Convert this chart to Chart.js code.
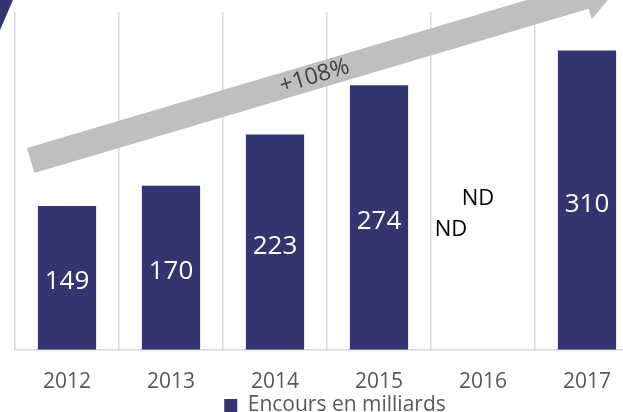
<!DOCTYPE html>
<html lang="fr">
<head>
    <meta charset="UTF-8">
    <title>Encours en milliards</title>
    <script src="https://cdn.jsdelivr.net/npm/chart.js"></script>
    <style>
        * { margin: 0; padding: 0; box-sizing: border-box; }
        html, body { width: 623px; height: 412px; overflow: hidden; background: #fff; }
        .chart-box { width: 686px; height: 426px; position: relative; }
    </style>
</head>
<body>
    <div class="chart-box">
        <canvas id="barChart"></canvas>
    </div>

    <script>
        // Data
        const years = ['2012', '2013', '2014', '2015', '2016', '2017'];
        const encours = [149, 170, 223, 274, null, 310];
        const seriesName = 'Encours en milliards';
        const growthLabel = '+108%';
        const missingLabel = 'ND';

        const barColor = '#333571';
        const textGray = '#595959';

        // white value labels in the middle of each bar + ND for the missing year
        const valueLabels = {
            id: 'valueLabels',
            afterDatasetsDraw(chart) {
                const ctx = chart.ctx;
                const meta = chart.getDatasetMeta(0);
                ctx.save();
                ctx.font = '26px "Open Sans"';
                ctx.fillStyle = '#fff';
                ctx.textAlign = 'center';
                ctx.textBaseline = 'middle';
                meta.data.forEach((bar, i) => {
                    if (encours[i] == null) return;
                    ctx.fillText(encours[i], bar.x, (bar.y + bar.base) / 2 + 4);
                });

                // the two "ND" marks for 2016
                const x = chart.scales.x.getPixelForValue(4);
                const y = chart.scales.y;
                ctx.fillStyle = '#000';
                ctx.font = '22px "Open Sans"';
                ctx.fillText(missingLabel, x - 5, y.getPixelForValue(157));
                ctx.fillText(missingLabel, x - 32, y.getPixelForValue(124));
                ctx.restore();
            }
        };

        // big grey growth arrow behind the bars + the blue corner piece
        const growthArrow = {
            id: 'growthArrow',
            afterLayout(chart) {
                // legend sits a little right of the plot centre in the original
                chart.legend.left += 8;
                chart.legend.right += 8;
            },
            beforeDatasetsDraw(chart) {
                const ctx = chart.ctx;
                const ang = 16.5 * Math.PI / 180;
                const ux = Math.cos(ang), uy = -Math.sin(ang);
                const nx = Math.sin(ang), ny = Math.cos(ang);
                const sx = 30.7, sy = 160.5;   // middle of the tail
                const half = 13, shaft = 578, wing = 11, head = 36;

                const p = (l, o) => [sx + ux * l + nx * o, sy + uy * l + ny * o];
                const pts = [
                    p(0, -half), p(shaft, -half), p(shaft, -half - wing),
                    p(shaft + head, 0),
                    p(shaft, half + wing), p(shaft, half), p(0, half)
                ];
                ctx.save();
                ctx.fillStyle = '#bfbfbf';
                ctx.beginPath();
                pts.forEach(([a, b], i) => i ? ctx.lineTo(a, b) : ctx.moveTo(a, b));
                ctx.closePath();
                ctx.fill();

                const [tx, ty] = p(296, 0);
                ctx.translate(tx, ty);
                ctx.rotate(-ang);
                ctx.fillStyle = '#404040';
                ctx.font = '23px "Open Sans"';
                ctx.textAlign = 'center';
                ctx.textBaseline = 'middle';
                ctx.fillText(growthLabel, 0, 0);
                ctx.restore();
            },
            afterDraw(chart) {
                const ctx = chart.ctx;
                ctx.save();
                ctx.fillStyle = barColor;
                ctx.beginPath();
                ctx.moveTo(0, 0);
                ctx.lineTo(13, 0);
                ctx.lineTo(0, 30);
                ctx.closePath();
                ctx.fill();
                ctx.restore();
            }
        };

        const ctx = document.getElementById('barChart').getContext('2d');
        new Chart(ctx, {
            type: 'bar',
            data: {
                labels: years,
                datasets: [{
                    label: seriesName,
                    data: encours,
                    backgroundColor: barColor,
                    borderWidth: 0,
                    categoryPercentage: 1,
                    barPercentage: 0.56
                }]
            },
            options: {
                responsive: true,
                maintainAspectRatio: false,
                animation: false,
                layout: { padding: { left: 15, right: 47, top: 12, bottom: 0 } },
                scales: {
                    x: {
                        grid: { color: '#d9d9d9', lineWidth: 1.5, drawTicks: false, offset: true },
                        border: { color: '#d9d9d9', width: 1.5 },
                        ticks: {
                            color: textGray,
                            font: { family: 'Open Sans', size: 21 },
                            padding: 20
                        },
                        // let the tick labels sit closer to the legend
                        afterFit(scale) { scale.height -= 24; }
                    },
                    y: {
                        display: false,
                        min: 0,
                        max: 350
                    }
                },
                plugins: {
                    legend: {
                        position: 'bottom',
                        labels: {
                            color: textGray,
                            font: { family: 'Open Sans', size: 21 },
                            boxWidth: 13,
                            boxHeight: 13,
                            padding: 4
                        }
                    },
                    tooltip: { enabled: false }
                }
            },
            plugins: [growthArrow, valueLabels]
        });
    </script>
</body>
</html>
